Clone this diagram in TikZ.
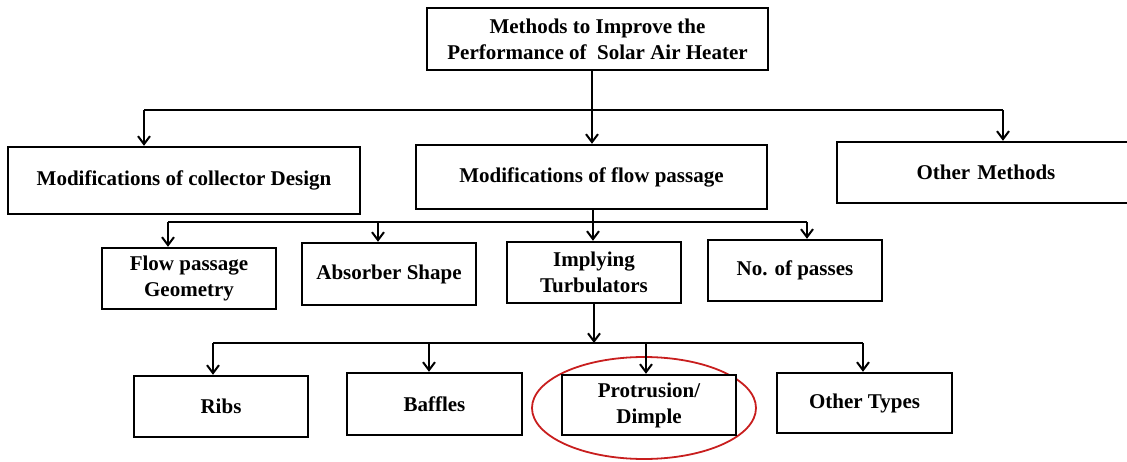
\documentclass[tikz,border=0pt]{standalone}
\usepackage{fontspec}
\setmainfont{Liberation Serif}
\usetikzlibrary{arrows.meta}

\begin{document}
\begin{tikzpicture}[x=1pt,y=-1pt,
  box/.style={draw=black, line width=2.4pt, fill=white, align=center,
    font=\bfseries\fontsize{21}{26}\selectfont, inner sep=2pt},
  link/.style={line width=2pt},
  arr/.style={line width=2pt, -{Straight Barb[length=8pt,width=12pt,line width=2pt]}}]
\useasboundingbox (0,0) rectangle (1127,462);

% Root
\node[box, minimum width=341pt, minimum height=62pt] (root) at (597.5,39)
  {Methods to Improve the\\Performance of\ \ Solar Air Heater};

% First level
\node[box, minimum width=352pt, minimum height=67pt] (coll) at (184,180.5)
  {Modifications of collector Design};
\node[box, minimum width=351pt, minimum height=64pt] (flow) at (591.5,177)
  {Modifications of flow passage};
\node[box, minimum width=298pt, minimum height=61pt, text width=290pt] (other) at (986,172.5)
  {Other Methods};

% Second level
\node[box, minimum width=174pt, minimum height=61pt] (geom) at (189,278.5)
  {Flow passage\\Geometry};
\node[box, minimum width=174pt, minimum height=62pt] (absorb) at (389,274)
  {Absorber Shape};
\node[box, minimum width=174pt, minimum height=61pt] (turb) at (594,272.5)
  {Implying\\Turbulators};
\node[box, minimum width=174pt, minimum height=61pt] (pass) at (795,270.5)
  {No. of passes};

% Third level
\node[box, minimum width=174pt, minimum height=61pt] (ribs) at (221,406.5)
  {Ribs};
\node[box, minimum width=175pt, minimum height=62pt] (baff) at (434.5,404)
  {Baffles};
% Highlight ring drawn first, then the protrusion/dimple box on top of it
\draw[color={rgb,255:red,200;green,30;blue,30}, line width=1.8pt] (644,408) ellipse [x radius=112pt, y radius=51pt];
\node[box, minimum width=174pt, minimum height=60pt] (prot) at (649,405)
  {Protrusion/\\Dimple};
\node[box, minimum width=175pt, minimum height=60pt] (otyp) at (864.5,403)
  {Other Types};

% Branch lines
\coordinate (b1l) at (144,110);
\coordinate (b1r) at (1003,110);
\coordinate (b2l) at (168,222);
\coordinate (b2r) at (807,222);
\coordinate (b3l) at (213,343);
\coordinate (b3r) at (863,343);
\coordinate (b3m) at (594,343);

\draw[link] (b1l) -- (b1r);
\draw[link] (b2l) -- (b2r);
\draw[link] (b3l) -- (b3r);

% Level 1 arrows
\draw[arr] (root.south -| 592,0) -- (flow.north -| 592,0);
\draw[arr] (b1l) -- (coll.north -| b1l);
\draw[arr] (b1r) -- (other.north -| b1r);

% Level 2 arrows
\draw[arr] (flow.south -| 593,0) -- (turb.north -| 593,0);
\draw[arr] (b2l) -- (geom.north -| b2l);
\draw[arr] (378,222) -- (absorb.north -| 378,0);
\draw[arr] (b2r) -- (pass.north -| b2r);

% Level 3 arrows
\draw[arr] (turb.south -| b3m) -- (b3m);
\draw[arr] (b3l) -- (ribs.north -| b3l);
\draw[arr] (429,343) -- (baff.north -| 429,0);
\draw[arr] (646,343) -- (prot.north -| 646,0);
\draw[arr] (b3r) -- (otyp.north -| b3r);
\end{tikzpicture}
\end{document}
